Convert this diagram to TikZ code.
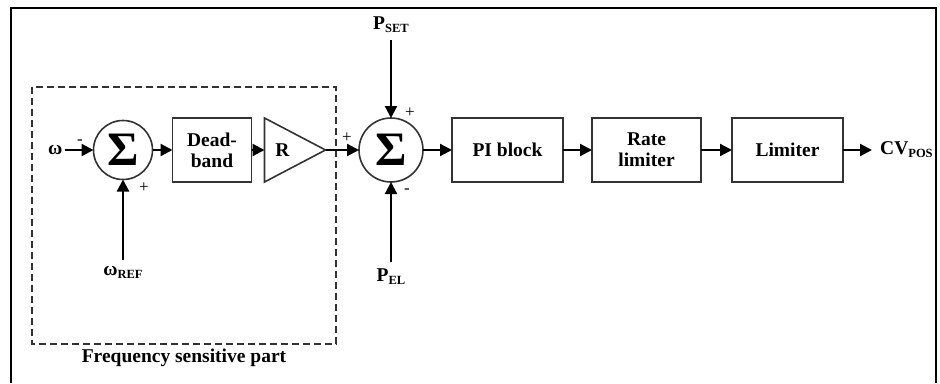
\documentclass[tikz,border=0pt]{standalone}
\usepackage{fontspec}
\setmainfont{Liberation Serif}
\usetikzlibrary{arrows.meta, positioning, shapes.geometric}

\newcommand{\lowidx}[1]{\raisebox{-3pt}{\fontsize{12.5}{12.5}\selectfont #1}}

\begin{document}
\begin{tikzpicture}[x=1pt, y=-1pt,
    every node/.style={font=\fontsize{19.5}{21}\selectfont\bfseries},
    block/.style={draw=black!80, line width=1.6pt, outer sep=0pt, minimum width=111pt, minimum height=64pt, align=center},
    sumnode/.style={draw=black!80, circle, line width=1.6pt, outer sep=0pt, minimum size=59pt, inner sep=0pt,
        font=\fontsize{48}{48}\selectfont\bfseries},
    gain/.style={draw=black!80, isosceles triangle, isosceles triangle stretches, line width=1.6pt, outer sep=0pt,
        minimum width=64pt, minimum height=61pt, inner sep=1pt},
    sig/.style={inner xsep=2pt, inner ysep=7pt},
    sign/.style={font=\fontsize{17}{17}\selectfont, inner sep=0pt},
    link/.style={-{Triangle[length=12pt,width=12pt]}, line width=2.2pt},
]
    \useasboundingbox (0,0) rectangle (940,383);

    % Frame round the picture
    \draw[line width=2.5pt] (11,383) -- (11,8) -- (936,8) -- (936,383);

    % Draw the blocks
    \node[sumnode]                                      (sum1) at (123,150) {Σ};
    \node[block, right=20pt of sum1, minimum width=79pt] (dead) {Dead-\\band};
    \node[gain, right=13pt of dead]                     (gain) {R};
    \node[sumnode, minimum size=64pt, right=33.5pt of gain.apex] (sum2) {Σ};
    \node[block, right=29pt of sum2]                    (pi)   {PI block};
    \node[block, right=29pt of pi, minimum width=109pt] (rate) {Rate\\limiter};
    \node[block, right=31pt of rate]                    (lim)  {Limiter};

    % Signals
    \node[sig, left=29pt of sum1]                       (omega) {ω};
    \node[sig, below=80pt of sum1]                      (wref)  {ω\lowidx{REF}};
    \node[sig, above=78pt of sum2]                      (pset)  {P\lowidx{SET}};
    \node[sig, below=80pt of sum2]                      (pel)   {P\lowidx{EL}};
    \node[sig, right=29pt of lim, inner xsep=8pt]       (cv)    {CV\lowidx{POS}};

    % Signs at the summing points
    \node[sign] (m1) at (80,142)  {-};
    \node[sign] (p1) at (144,188) {+};
    \node[sign] (p2) at (347,138) {+};
    \node[sign] (p3) at (410,113) {+};
    \node[sign] (m2) at (407,191) {-};

    % Frequency sensitive part
    \coordinate (fsnw) at (32,87);
    \coordinate (fsse) at (336,344);
    \draw[black!80, line width=1.3pt, dash pattern=on 7pt off 4pt] (fsnw) rectangle (fsse);
    \node (fslabel) at (184,358) {Frequency sensitive part};

    % Connect the blocks
    \draw[link] (omega) -- (sum1);
    \draw[link] (wref)  -- (sum1);
    \draw[link] (sum1)  -- (dead);
    \draw[link] (dead)  -- (gain);
    \draw[link] (gain.apex) -- (sum2);
    \draw[link] (pset)  -- (sum2);
    \draw[link] (pel)   -- (sum2);
    \draw[link] (sum2)  -- (pi);
    \draw[link] (pi)    -- (rate);
    \draw[link] (rate)  -- (lim);
    \draw[link] (lim)   -- (cv);
\end{tikzpicture}
\end{document}
